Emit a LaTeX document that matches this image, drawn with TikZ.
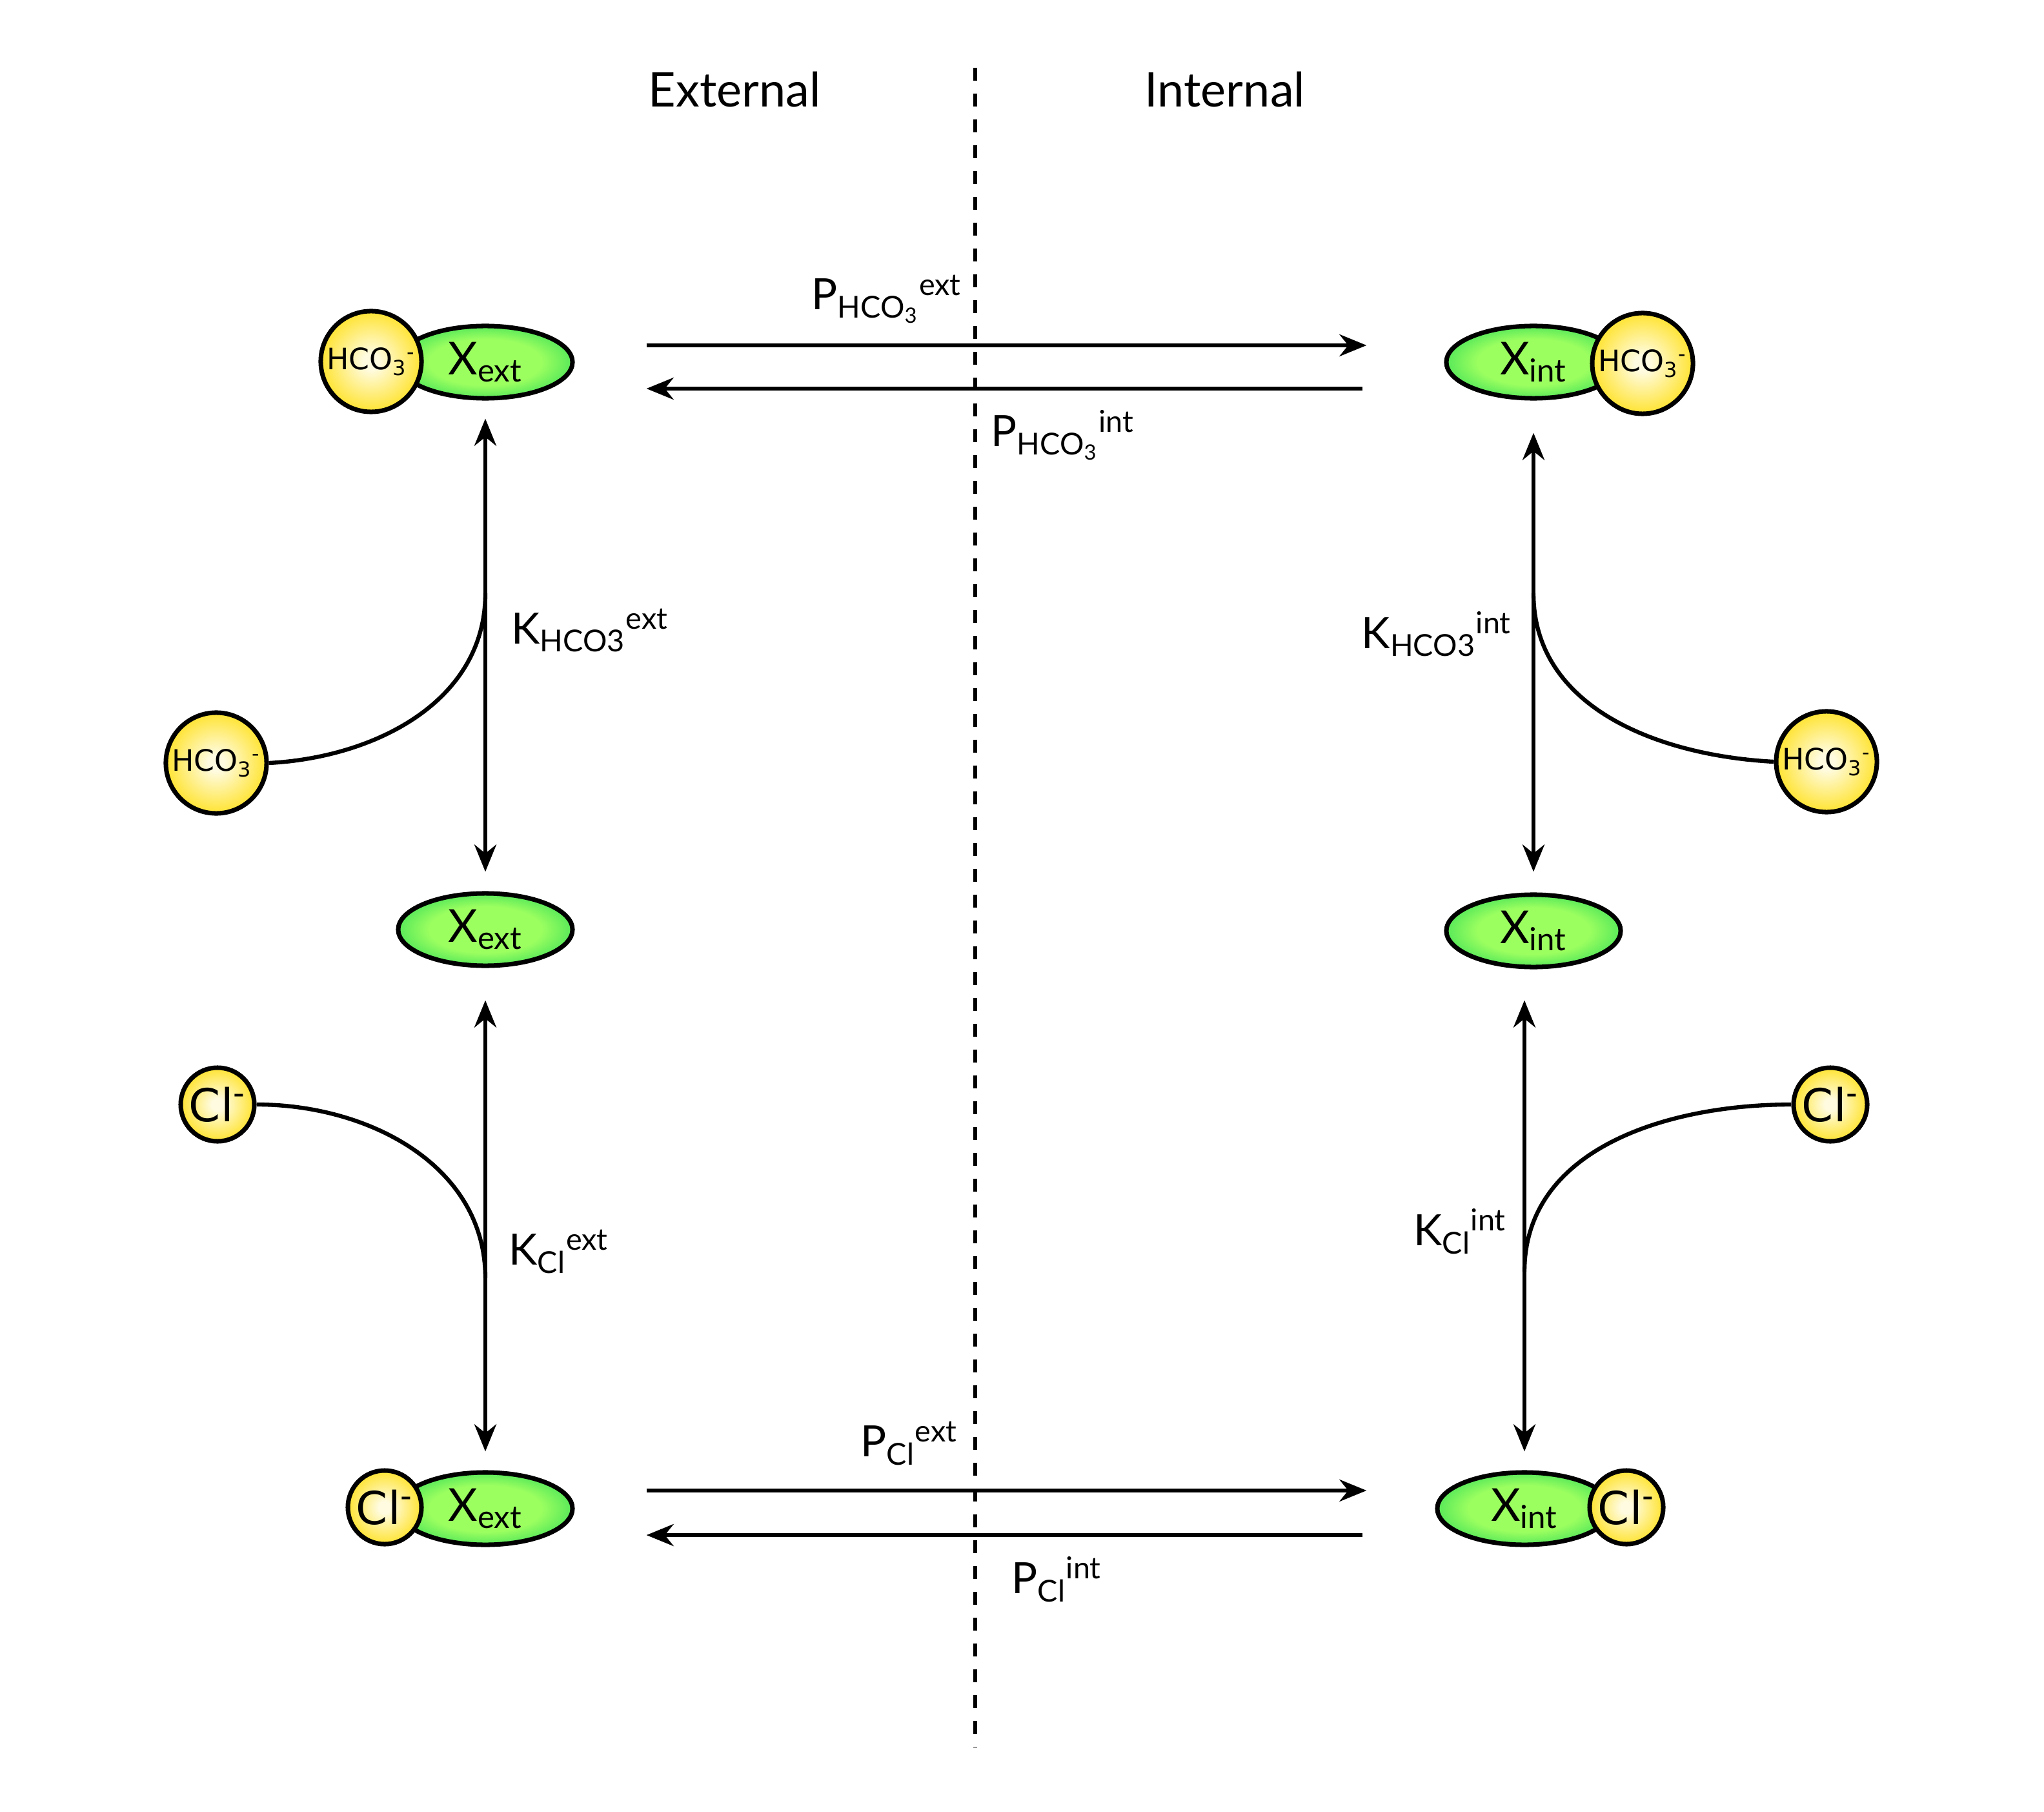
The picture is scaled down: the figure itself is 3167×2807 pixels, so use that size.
\documentclass[tikz,border=0pt]{standalone}
\usepackage{fontspec}
\setmainfont{Lato}
\newfontfamily\ionfont{DejaVu Sans}
\usetikzlibrary{shapes.geometric,arrows.meta,positioning,calc}

\definecolor{ioncore}{HTML}{FFFBE0}
\definecolor{ionrim}{HTML}{FFDD00}
\definecolor{carcore}{HTML}{9CFF60}
\definecolor{carrim}{HTML}{2CDA55}

\pgfdeclareradialshading{ionshade}{\pgfpoint{0bp}{0bp}}{%
  color(0bp)=(ioncore); color(4bp)=(ioncore); color(31bp)=(ionrim); color(50bp)=(ionrim)}
\pgfdeclareradialshading{carshade}{\pgfpoint{0bp}{0bp}}{%
  color(0bp)=(carcore); color(16bp)=(carcore); color(31bp)=(carrim); color(50bp)=(carrim)}

\tikzset{
  carrier/.style={ellipse, draw, line width=2pt, shading=carshade,
    minimum width=2.7cm, minimum height=1.12cm,
    inner sep=0pt, font=\fontsize{20}{22}\selectfont},
  ion/.style={circle, draw, line width=2pt, shading=ionshade,
    minimum size=1.56cm, inner sep=0pt,
    font=\ionfont\fontsize{13}{15}\selectfont},
  chloride/.style={ion, minimum size=1.14cm,
    font=\ionfont\fontsize{20}{22}\selectfont},
  rate/.style={inner sep=0pt, anchor=base west, font=\fontsize{19}{21}\selectfont},
  side/.style={inner sep=0pt, anchor=base west, font=\fontsize{21}{23}\selectfont},
  flux/.style={line width=1.8pt, -{Stealth[length=0.42cm,width=0.34cm]}},
  biflux/.style={line width=1.8pt,
    {Stealth[length=0.42cm,width=0.34cm]}-{Stealth[length=0.42cm,width=0.34cm]}},
  bind/.style={line width=1.8pt},
  membrane/.style={line width=1.6pt, dash pattern=on 0.2cm off 0.2cm}
}

\begin{document}
\begin{tikzpicture}[x=0.01cm,y=-0.01cm]
  \useasboundingbox (0,0) rectangle (3167,2807);

  % membrane
  \coordinate (mtop) at (1511,105);
  \coordinate (mbot) at (1511,2707);
  \draw[membrane] (mtop) -- (mbot);
  \node[side] (ext) at (1004,166) {External};
  \node[side] (int) at (1773,166) {Internal};

  % external side
  \node[carrier] (xe1) at (752,561) {X\textsubscript{ext}};
  \node[ion] (he1) at (575,560) {HCO\textsubscript{3}\textsuperscript{-}};
  \node[carrier] (xe2) at (752,1440) {X\textsubscript{ext}};
  \node[carrier] (xe3) at (752,2337) {X\textsubscript{ext}};
  \node[chloride] (ce3) at (596,2335) {Cl\textsuperscript{-}};
  \node[ion] (hef) at (335,1182) {HCO\textsubscript{3}\textsuperscript{-}};
  \node[chloride] (cef) at (337,1711) {Cl\textsuperscript{-}};

  % internal side
  \node[carrier] (xi1) at (2376,561) {X\textsubscript{int}};
  \node[ion] (hi1) at (2545,563) {HCO\textsubscript{3}\textsuperscript{-}};
  \node[carrier] (xi2) at (2376,1442) {X\textsubscript{int}};
  \node[carrier] (xi3) at (2362,2337) {X\textsubscript{int}};
  \node[chloride] (ci3) at (2520,2335) {Cl\textsuperscript{-}};
  \node[ion] (hif) at (2830,1180) {HCO\textsubscript{3}\textsuperscript{-}};
  \node[chloride] (cif) at (2836,1711) {Cl\textsuperscript{-}};

  % binding steps
  \draw[biflux, shorten <=0.28cm, shorten >=0.3cm] (xe1.south) -- (xe2.north);
  \draw[biflux, shorten <=0.5cm, shorten >=0.29cm] (xe2.south) -- (xe3.north);
  \draw[biflux, shorten <=0.5cm, shorten >=0.32cm] (xi1.south) -- (xi2.north);
  \draw[biflux, shorten <=0.48cm, shorten >=0.29cm] (xi2.south -| xi3) -- (xi3.north);

  \coordinate (khe) at (752,919);
  \coordinate (kce) at (752,1980);
  \coordinate (khi) at (2376,919);
  \coordinate (kci) at (2362,1970);
  \draw[bind] (hef.east) to[out=3,in=-90] (khe);
  \draw[bind] (cef.east) to[out=0,in=90] (kce);
  \draw[bind] (khi) to[out=-90,in=177] (hif.west);
  \draw[bind] (kci) to[out=90,in=180] (cif.west);

  % translocation
  \draw[flux] ([shift={(1.11cm,0.26cm)}]xe1.east) -- ([shift={(-1.2cm,0.26cm)}]xi1.west);
  \draw[flux] ([shift={(-1.26cm,-0.41cm)}]xi1.west) -- ([shift={(1.11cm,-0.41cm)}]xe1.east);
  \draw[flux] ([shift={(1.11cm,0.28cm)}]xe3.east) -- ([shift={(-1.06cm,0.28cm)}]xi3.west);
  \draw[flux] ([shift={(-1.12cm,-0.41cm)}]xi3.west) -- ([shift={(1.11cm,-0.41cm)}]xe3.east);

  % rate labels
  \node[rate] (phe) at (1257,480) {P\textsubscript{HCO\textsubscript{3}}\textsuperscript{ext}};
  \node[rate] (phi) at (1535,692) {P\textsubscript{HCO\textsubscript{3}}\textsuperscript{int}};
  \node[rate] (khel) at (792,997) {K\textsubscript{HCO3}\textsuperscript{ext}};
  \node[rate, anchor=base east] (khil) at (2343,1004) {K\textsubscript{HCO3}\textsuperscript{int}};
  \node[rate] (kcel) at (788,1959) {K\textsubscript{Cl}\textsuperscript{ext}};
  \node[rate, anchor=base east] (kcil) at (2335,1929) {K\textsubscript{Cl}\textsuperscript{int}};
  \node[rate] (pce) at (1333,2256) {P\textsubscript{Cl}\textsuperscript{ext}};
  \node[rate] (pci) at (1567,2468) {P\textsubscript{Cl}\textsuperscript{int}};
\end{tikzpicture}
\end{document}
